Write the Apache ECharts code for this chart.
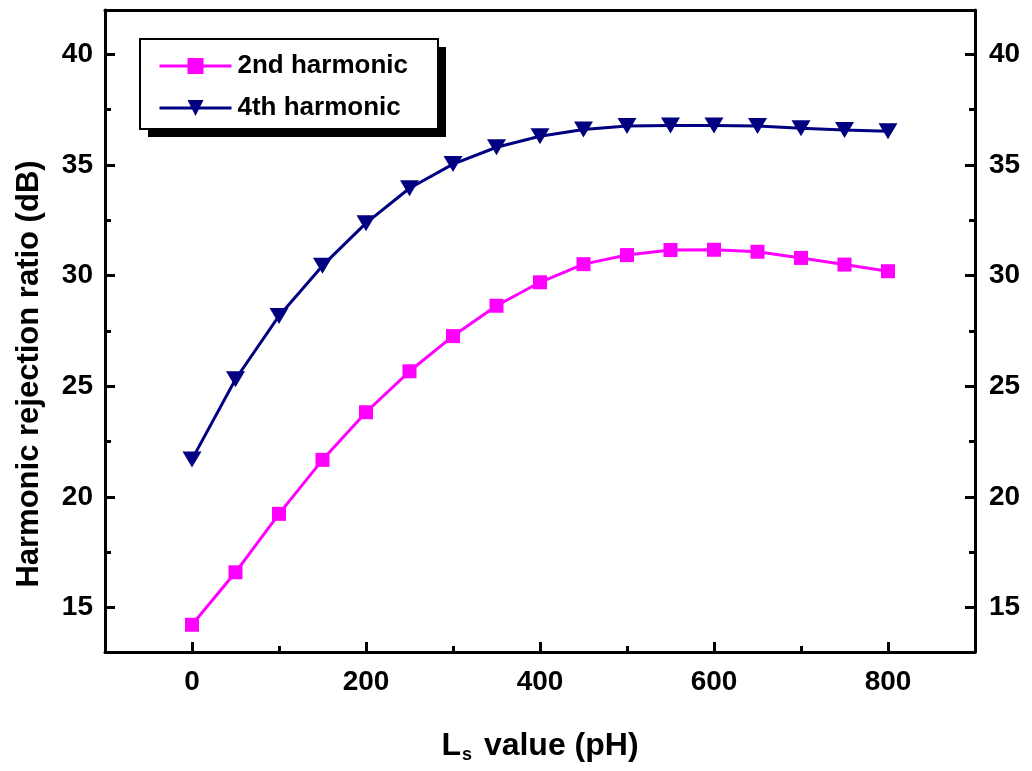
<!DOCTYPE html>
<html>
<head>
<meta charset="utf-8">
<script src="https://cdn.jsdelivr.net/npm/echarts@6/dist/echarts.min.js"></script>
<style>
    html, body { margin: 0; padding: 0; background: #fff; }
    #chart { width: 1032px; height: 771px; }
</style>
</head>
<body>
<div id="chart"></div>
<script>
    // Ls values (pH)
    var lsValues = [0, 50, 100, 150, 200, 250, 300, 350, 400, 450, 500, 550, 600, 650, 700, 750, 800];
    // harmonic rejection ratio (dB)
    var second = [14.23, 16.6, 19.24, 21.68, 23.83, 25.68, 27.27, 28.64, 29.7, 30.52, 30.93, 31.16, 31.17, 31.08, 30.8, 30.5, 30.2];
    var fourth = [21.7, 25.32, 28.18, 30.45, 32.37, 33.95, 35.04, 35.8, 36.3, 36.6, 36.76, 36.78, 36.78, 36.76, 36.66, 36.58, 36.52];

    var xTicks = [0, 200, 400, 600, 800];
    var xMinorTicks = [100, 300, 500, 700];
    var yTicks = [15, 20, 25, 30, 35, 40];
    var yMinorTicks = [17.5, 22.5, 27.5, 32.5, 37.5];

    function pairs(xs, ys) {
        return xs.map(function (x, i) { return [x, ys[i]]; });
    }

    var font = '"Liberation Sans", Arial, sans-serif';
    var black = '#000';
    var axisLine = { show: true, onZero: false, lineStyle: { color: black, width: 3 } };
    var tickFont = { fontFamily: font, fontSize: 28, fontWeight: 'bold', color: black };

    var chart = echarts.init(document.getElementById('chart'));
    chart.setOption({
        backgroundColor: '#fff',
        animation: false,
        grid: { left: 105, right: 57, top: 10, bottom: 119, containLabel: false },
        legend: {
            orient: 'vertical',
            left: 158,
            top: 53,
            padding: 0,
            itemGap: 16,
            itemWidth: 72,
            itemHeight: 20,
            z: 10,
            lineStyle: { width: 3 },
            textStyle: { fontFamily: font, fontSize: 26, fontWeight: 'bold', color: black, lineHeight: 20, padding: [0, 0, 0, 1] },
            data: ['2nd harmonic', '4th harmonic']
        },
        xAxis: [
            {
                type: 'value', position: 'bottom', min: -100, max: 900,
                axisLine: axisLine,
                axisTick: { show: true, inside: true, length: 10, lineStyle: { color: black, width: 3 }, customValues: xTicks },
                axisLabel: Object.assign({ show: true, margin: 16, customValues: xTicks }, tickFont),
                splitLine: { show: false },
                name: '{a|L}{s|s}{a| value (pH)}',
                nameLocation: 'middle',
                nameGap: 76,
                nameTextStyle: {
                    rich: {
                        a: { fontFamily: font, fontSize: 32, fontWeight: 'bold', color: black },
                        s: { fontFamily: font, fontSize: 18, fontWeight: 'bold', color: black, padding: [18, 3, 0, 1] }
                    }
                }
            },
            {
                type: 'value', position: 'bottom', min: -100, max: 900,
                axisLine: { show: false, onZero: false },
                axisTick: { show: true, inside: true, length: 6, lineStyle: { color: black, width: 3 }, customValues: xMinorTicks },
                axisLabel: { show: false },
                splitLine: { show: false }
            },
            {
                type: 'value', position: 'top', min: -100, max: 900,
                axisLine: axisLine,
                axisTick: { show: false },
                axisLabel: { show: false },
                splitLine: { show: false }
            }
        ],
        yAxis: [
            {
                type: 'value', position: 'left', min: 13, max: 42,
                axisLine: axisLine,
                axisTick: { show: true, inside: true, length: 10, lineStyle: { color: black, width: 3 }, customValues: yTicks },
                axisLabel: Object.assign({ show: true, margin: 12, customValues: yTicks }, tickFont),
                splitLine: { show: false }
            },
            {
                type: 'value', position: 'left', min: 13, max: 42,
                axisLine: { show: false, onZero: false },
                axisTick: { show: true, inside: true, length: 6, lineStyle: { color: black, width: 3 }, customValues: yMinorTicks },
                axisLabel: { show: false },
                splitLine: { show: false }
            },
            {
                type: 'value', position: 'right', min: 13, max: 42,
                axisLine: axisLine,
                axisTick: { show: true, inside: true, length: 10, lineStyle: { color: black, width: 3 }, customValues: yTicks },
                axisLabel: Object.assign({ show: true, margin: 14, customValues: yTicks }, tickFont),
                splitLine: { show: false }
            },
            {
                type: 'value', position: 'right', min: 13, max: 42,
                axisLine: { show: false, onZero: false },
                axisTick: { show: true, inside: true, length: 6, lineStyle: { color: black, width: 3 }, customValues: yMinorTicks },
                axisLabel: { show: false },
                splitLine: { show: false }
            }
        ],
        graphic: [
            {
                // legend box shadow
                type: 'rect',
                z: 5,
                shape: { x: 148, y: 47, width: 298, height: 90 },
                style: { fill: black }
            },
            {
                // legend box
                type: 'rect',
                z: 6,
                shape: { x: 140, y: 39, width: 298, height: 90 },
                style: { fill: '#fff', stroke: black, lineWidth: 2 }
            },
            {
                type: 'text',
                x: 29,
                y: 374,
                rotation: Math.PI / 2,
                style: {
                    text: 'Harmonic rejection ratio (dB)',
                    font: 'bold 31px ' + font,
                    fill: black,
                    align: 'center',
                    verticalAlign: 'middle'
                }
            }
        ],
        series: [
            {
                name: '2nd harmonic',
                type: 'line',
                xAxisIndex: 0,
                yAxisIndex: 0,
                data: pairs(lsValues, second),
                symbol: 'rect',
                symbolSize: 14,
                itemStyle: { color: '#ff00ff' },
                lineStyle: { color: '#ff00ff', width: 3 },
                z: 3
            },
            {
                name: '4th harmonic',
                type: 'line',
                xAxisIndex: 0,
                yAxisIndex: 0,
                data: pairs(lsValues, fourth),
                symbol: 'triangle',
                symbolRotate: 180,
                symbolSize: [19, 16],
                itemStyle: { color: '#000080' },
                lineStyle: { color: '#000080', width: 3 },
                z: 3
            }
        ]
    });
</script>
</body>
</html>
